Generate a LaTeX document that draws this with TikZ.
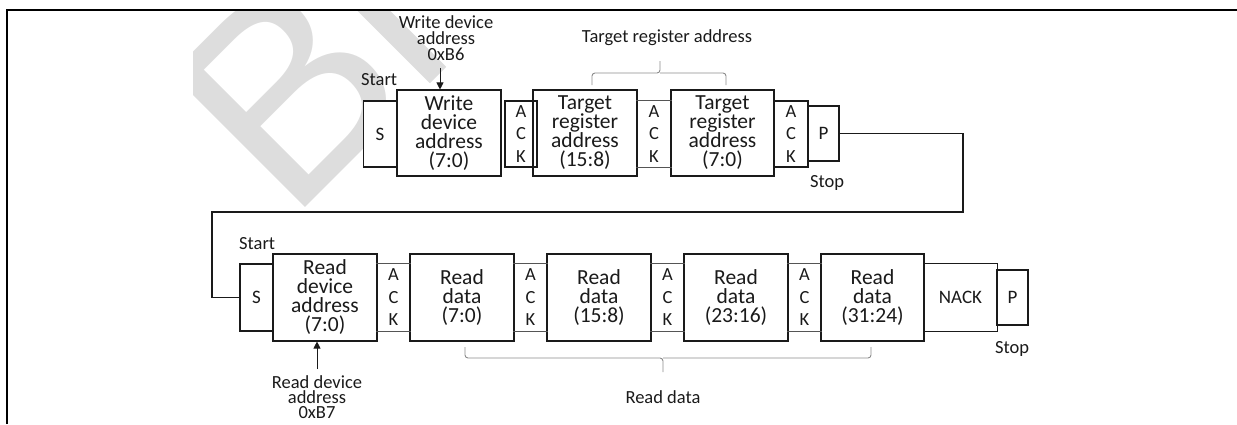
\documentclass[tikz,border=0pt]{standalone}
\usepackage{fontspec}
\setmainfont{Carlito}
\newfontfamily\wmfont{Liberation Sans}
\usetikzlibrary{arrows.meta}
\definecolor{wm}{HTML}{DDDDDD}
\definecolor{ink}{HTML}{1A1A1A}
\definecolor{wire}{HTML}{555555}
\definecolor{brace}{HTML}{8A8A8A}
\begin{document}
\begin{tikzpicture}[x=1pt,y=-1pt,
  box/.style={draw=ink,fill=white,line width=1.1pt,inner sep=0pt,align=center,text=ink,
    font=\fontsize{21.5}{19}\selectfont,minimum width=104pt,minimum height=86pt},
  ackbox/.style={draw=ink,line width=1.1pt,inner sep=0pt,align=center,text=ink,
    font=\fontsize{18.5}{22.5}\selectfont,minimum width=33pt,minimum height=66pt},
  ackfree/.style={ackbox,draw=none},
  small/.style={draw=ink,fill=white,line width=1.1pt,inner sep=0pt,text=ink,
    font=\fontsize{19}{20}\selectfont,minimum width=33pt,minimum height=66pt},
  lbl/.style={inner sep=0pt,align=center,text=ink,font=\fontsize{18.5}{16}\selectfont},
  wirel/.style={draw=wire,line width=1pt},
  conn/.style={draw=ink,line width=1.1pt},
  arr/.style={draw=ink,line width=0.8pt,-{Triangle[length=7pt,width=7pt]}},
  br/.style={draw=brace,line width=0.9pt,rounded corners=3pt}
]
\useasboundingbox (0,0) rectangle (1237,424);

% watermark
\begin{scope}
  \clip (193,11) rectangle (1237,424);
  \node[rotate=45,anchor=base west,inner sep=0pt,text=wm,
        font=\fontsize{275}{275}\wmfont] (wmark) at (289,224) {B};
  \draw[wm,line width=23pt] (438,75) -- (350,-13);
\end{scope}

% frame
\draw[line width=2.4pt] (7,424) -- (7,10) -- (193,10);
\draw[line width=1.2pt] (193,10) -- (1052,10);
\draw[line width=2.4pt] (1052,10) -- (1237,10);

% ---------- top row ----------
\node[small] (s1) at (380,134) {S};
\node[box] (wda) at (449,133) {Write\\device\\address\\(7:0)};
\node[box] (t1) at (585,133) {Target\\register\\address\\(15:8)};
\node[ackbox,minimum width=32pt] (ack1) at (521,134) {A\\C\\K};
\node[ackfree,minimum width=34pt] (ack2) at (654,134) {A\\C\\K};
\node[box,minimum width=103pt] (t2) at (722.5,133) {Target\\register\\address\\(7:0)};
\node[ackbox,minimum width=34pt] (ack3) at (791,134) {A\\C\\K};
\node[small,minimum width=31pt,minimum height=55pt] (p1) at (823.5,133.5) {P};
\draw[wirel] (ack2.north west) -- (ack2.north east) (ack2.south west) -- (ack2.south east);

\node[lbl,anchor=west] (start1) at (361,80) {Start};
\node[lbl] (stop1) at (827,183) {Stop};
\node[lbl] (wlab) at (446,38) {Write device\\address\\0xB6};
\node[lbl] (tlab) at (667,38) {Target register address};
\coordinate (wtail) at (440,68);
\draw[arr] (wtail) -- (wtail |- wda.north);
\draw[br] (592,85) -- (592,73) -- (660,73) -- (660,61);
\draw[br] (660,73) -- (726,73) -- (726,85);

% ---------- loop connector ----------
\coordinate (turn1) at (963,212);
\coordinate (turn2) at (212,212);

% ---------- bottom row ----------
\node[small,minimum height=67pt] (s2) at (256.5,297.5) {S};
\node[box,minimum height=87pt] (rda) at (325,297.5) {Read\\device\\address\\(7:0)};
\node[ackfree,minimum height=67pt] (b1) at (393.5,297.5) {A\\C\\K};
\node[box,minimum height=87pt] (rd1) at (462,297.5) {Read\\data\\(7:0)};
\node[ackfree,minimum height=67pt] (b2) at (530.5,297.5) {A\\C\\K};
\node[box,minimum height=87pt] (rd2) at (599,297.5) {Read\\data\\(15:8)};
\node[ackfree,minimum height=67pt] (b3) at (667.5,297.5) {A\\C\\K};
\node[box,minimum height=87pt] (rd3) at (736,297.5) {Read\\data\\(23:16)};
\node[ackfree,minimum height=67pt] (b4) at (804.5,297.5) {A\\C\\K};
\node[box,minimum height=87pt,minimum width=103pt] (rd4) at (872.5,297.5) {Read\\data\\(31:24)};
\node[inner sep=0pt,text=ink,font=\fontsize{19}{20}\selectfont,
      minimum width=73pt,minimum height=67pt] (nack) at (960.5,297.5) {NACK};
\node[small,minimum width=31pt,minimum height=55pt] (p2) at (1012.5,297.5) {P};
\foreach \n in {b1,b2,b3,b4}
  \draw[wirel] (\n.north west) -- (\n.north east) (\n.south west) -- (\n.south east);
\draw[conn] (nack.north west) -- (nack.north east) -- (nack.south east) -- (nack.south west);

\draw[conn] (p1.east) -| (turn1) -- (turn2) |- (s2.west);

\node[lbl,anchor=west] (start2) at (239,244) {Start};
\node[lbl] (stop2) at (1012,349) {Stop};
\node[lbl,font=\fontsize{18.5}{15}\selectfont] (rlab) at (317,397) {Read device\\address\\0xB7};
\coordinate (rtail) at (317,369);
\draw[arr] (rtail) -- (rtail |- rda.south);
\draw[br] (465,347) -- (465,358) -- (663,358) -- (663,372);
\draw[br] (663,358) -- (871,358) -- (871,347);
\node[lbl] (rdlab) at (663,397) {Read data};
\end{tikzpicture}
\end{document}
